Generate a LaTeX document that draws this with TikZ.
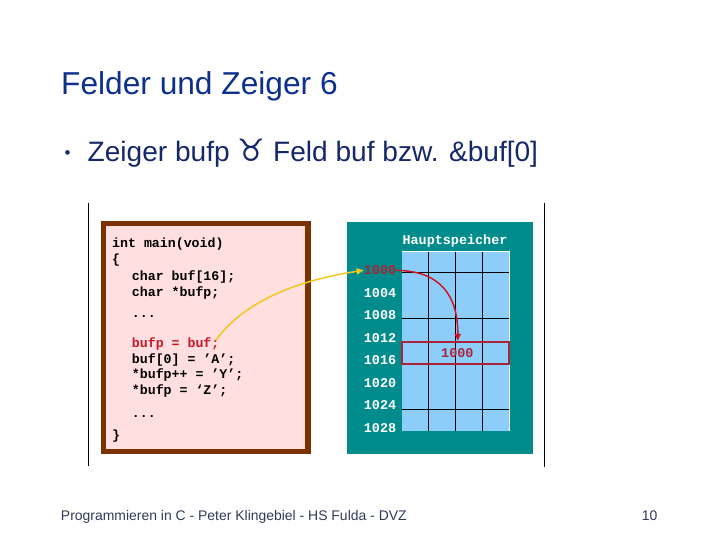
\documentclass[tikz,border=0pt]{standalone}
\usepackage{fontspec}
\setmainfont{Liberation Sans}
\newfontfamily\codefont{Liberation Mono}
\newfontfamily\symfont{DejaVu Sans}
\usetikzlibrary{arrows.meta}
\definecolor{titleblue}{RGB}{12,48,140}
\definecolor{bulletblue}{RGB}{22,40,104}
\definecolor{footgray}{RGB}{48,58,88}
\definecolor{framebrown}{RGB}{122,51,0}
\definecolor{codepink}{RGB}{255,223,223}
\definecolor{memteal}{RGB}{0,140,140}
\definecolor{cellblue}{RGB}{140,205,250}
\definecolor{codered}{RGB}{205,22,40}
\definecolor{memred}{RGB}{172,36,58}
\definecolor{arrowyellow}{RGB}{240,200,30}
\begin{document}
\begin{tikzpicture}[x=1bp,y=-1bp,
  codeline/.style={anchor=base west,inner sep=0pt,font=\codefont\bfseries\fontsize{13.3}{15}\selectfont},
  adr/.style={inner sep=0pt,text=white,font=\codefont\bfseries\fontsize{13.5}{15}\selectfont}]
\useasboundingbox (0,0) rectangle (720,540);
% headings
\node[anchor=base west,inner sep=0pt,text=titleblue,font=\fontsize{31.8}{36}\selectfont] (title) at (61,94.3) {Felder und Zeiger 6};
\node[anchor=base,inner sep=0pt,text=bulletblue,font=\fontsize{17}{18}\selectfont] (dot) at (67.7,159) {•};
\node[anchor=base west,inner sep=0pt,text=bulletblue,font=\fontsize{28.2}{33}\selectfont] (bullet) at (87.5,161.7) {Zeiger bufp {\symfont\fontsize{31}{31}\selectfont ♉} Feld buf bzw. \&buf[0]};
% side rules
\draw[line width=1bp] (88.3,203) -- (88.3,466);
\draw[line width=1bp] (544.3,203) -- (544.3,467);
% code box
\draw[framebrown,line width=5.5bp,fill=codepink] (103.7,223.5) rectangle (308,451.5);
\node[codeline] (main) at (112,248) {int main(void)};
\node[codeline] (open) at (112,264) {\{};
\node[codeline] (decl1) at (131.7,281) {char buf[16];};
\node[codeline] (decl2) at (131.7,296) {char *bufp;};
\node[codeline] (dots1) at (131.7,317.5) {...};
\node[codeline,text=codered] (assign) at (131.7,347) {bufp = buf;};
\node[codeline] (set1) at (131.7,363) {buf[0] = ’A’;};
\node[codeline] (set2) at (131.7,378) {*bufp++ = ’Y’;};
\node[codeline] (set3) at (131.7,394) {*bufp = ‘Z’;};
\node[codeline] (dots2) at (131.7,417.5) {...};
\node[codeline] (close) at (112,439) {\}};
% memory
\fill[memteal] (347.3,221.7) rectangle (532.7,454.3);
\node[adr,anchor=base] (mem) at (455,245) {Hauptspeicher};
\fill[cellblue] (401.7,251.7) rectangle (509,430.7);
\draw[white,line width=1bp] (401.7,251.7) -- (509,251.7) -- (509,430.7);
\foreach \x in {428.3,455.7,482.7} \draw[line width=1bp] (\x,251.7) -- (\x,430.7);
\foreach \y in {272.7,318.3,364,409} \draw[line width=1bp] (401.7,\y) -- (509,\y);
\node[draw=memred,line width=1.6bp,minimum width=107.3bp,minimum height=22.3bp,inner sep=0pt,text=memred,font=\codefont\bfseries\fontsize{13.5}{15}\selectfont] (ptr) at (455.35,352.85) {\hspace{4bp}1000};
\node[adr,text=memred] (adr1000) at (380,270.3) {1000};
\foreach \a/\y in {1004/292.7,1008/315,1012/337.7,1016/360.3,1020/382.7,1024/405.3,1028/428.3}
  \node[adr] (adr\a) at (380,\y) {\a};
% pointers
\draw[arrowyellow,line width=1.5bp,-{Triangle[length=7bp,width=6bp]}] ([xshift=-4bp,yshift=3bp]assign.east) .. controls (245,300) and (300,280) .. (adr1000.west);
\draw[codered,line width=1.5bp,-{Triangle[length=7bp,width=6bp]}] (adr1000.east) .. controls (440,271) and (458,295) .. ([xshift=2.4bp]ptr.north);
% footer
\node[anchor=base west,inner sep=0pt,text=footgray,font=\fontsize{14}{16}\selectfont] (foot) at (60.8,520) {Programmieren in C - Peter Klingebiel - HS Fulda - DVZ};
\node[anchor=base east,inner sep=0pt,text=footgray,font=\fontsize{14}{16}\selectfont] (page) at (657.5,520) {10};
\end{tikzpicture}
\end{document}
